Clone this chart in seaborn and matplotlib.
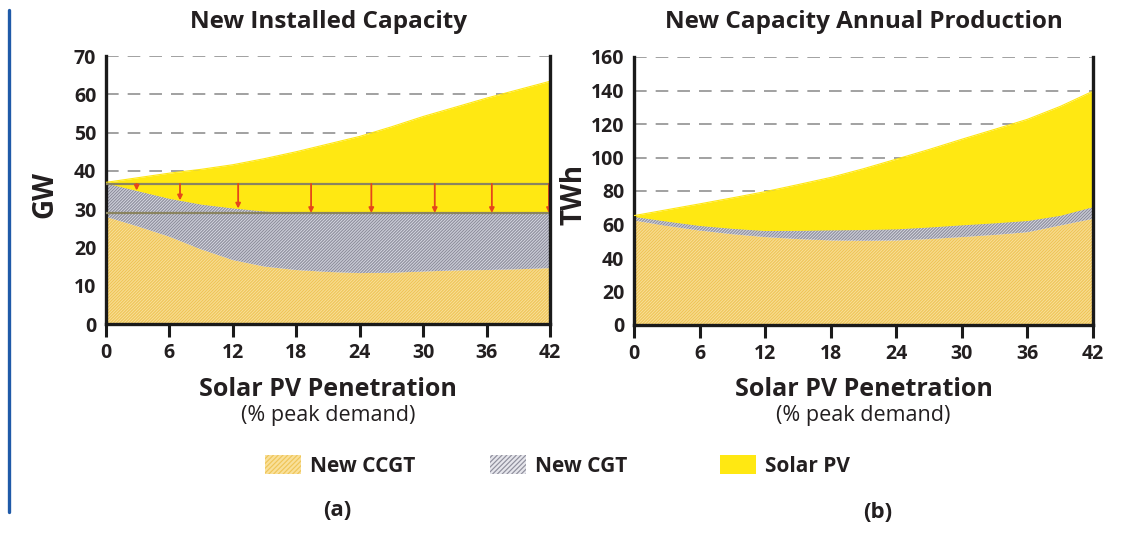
import numpy as np
import matplotlib
matplotlib.use("Agg")
import matplotlib.pyplot as plt
from matplotlib.patches import Patch
from matplotlib.lines import Line2D
import seaborn as sns

# solar PV penetration (% peak demand)
penetration = [0, 3, 6, 9, 12, 15, 18, 21, 24, 27, 30, 33, 36, 39, 42]
x_ticks = [0, 6, 12, 18, 24, 30, 36, 42]

# (a) new installed capacity, GW (stacked components)
ccgt_gw = [28.0, 25.5, 22.8, 19.5, 16.7, 15.0, 14.1, 13.6, 13.3, 13.4, 13.7, 14.0, 14.1, 14.3, 14.6]
cgt_gw = [8.8, 9.3, 10.0, 11.8, 13.6, 14.5, 14.9, 15.4, 15.7, 15.6, 15.3, 15.0, 14.9, 14.7, 14.4]
solar_gw = [0.2, 3.4, 6.6, 9.1, 11.3, 13.7, 16.0, 18.0, 20.0, 22.5, 25.2, 27.6, 30.0, 32.2, 34.4]

# thermal capacity before / after solar, and where the arrows sit
thermal_before = 36.6
thermal_after = 29.0
arrow_x = [2.9, 7.0, 12.5, 19.4, 25.1, 31.1, 36.5, 41.9]

# (b) new capacity annual production, TWh (stacked components)
ccgt_twh = [62.4, 59.2, 56.4, 54.2, 52.5, 51.3, 50.5, 50.3, 50.5, 51.3, 52.5, 53.8, 55.4, 59.4, 63.4]
cgt_twh = [2.4, 2.8, 3.0, 3.5, 3.9, 5.2, 6.3, 6.7, 6.9, 7.2, 7.3, 7.2, 7.0, 6.1, 7.3]
solar_twh = [0.5, 6.8, 12.9, 18.2, 23.2, 27.3, 31.3, 36.3, 41.6, 46.3, 51.1, 55.8, 60.4, 65.0, 68.9]

labels = ["New CCGT", "New CGT", "Solar PV"]

CCGT_FACE, CCGT_HATCH = "#f9e09a", "#efc558"
CGT_FACE, CGT_HATCH = "#d6d8e2", "#8f8f9d"
SOLAR = "#ffe812"
TXT = "#231f20"
HATCH = "/" * 11

sns.set_theme(style="white")
plt.rcParams["font.family"] = ["Open Sans", "DejaVu Sans"]
plt.rcParams["hatch.linewidth"] = 0.85

W, H = 1146, 546
fig = plt.figure(figsize=(W / 100, H / 100), dpi=100)


def stacked_panel(rect, ccgt, cgt, solar, ymax, ystep, title):
    ax = fig.add_axes(rect)
    x = np.array(penetration)
    y1 = np.array(ccgt)
    y2 = y1 + np.array(cgt)
    y3 = y2 + np.array(solar)
    ax.fill_between(x, 0, y1, facecolor=CCGT_FACE, edgecolor=CCGT_HATCH,
                    hatch=HATCH, linewidth=0, zorder=2)
    ax.fill_between(x, y1, y2, facecolor=CGT_FACE, edgecolor=CGT_HATCH,
                    hatch=HATCH, linewidth=0, zorder=2)
    ax.fill_between(x, y2, y3, facecolor=SOLAR, linewidth=0, zorder=2)
    sns.lineplot(x=x, y=y3, color=SOLAR, linewidth=0.8, ax=ax, zorder=3)

    ax.set_xlim(0, 42)
    ax.set_ylim(0, ymax)
    ax.set_xticks(x_ticks)
    ax.set_yticks(np.arange(0, ymax + 1, ystep))
    for t in np.arange(ystep, ymax + 1, ystep):
        ax.axhline(t, color="#9a9a9a", lw=1.3, ls=(0, (7, 5)), zorder=1)
    for s in ["left", "bottom", "right"]:
        ax.spines[s].set_color("#1a1a1a")
        ax.spines[s].set_linewidth(2.4)
    ax.spines["top"].set_visible(False)
    ax.spines["right"].set_zorder(5)
    ax.tick_params(axis="x", length=9, width=2.2, color="#1a1a1a", direction="out",
                   pad=5, labelsize=14, labelcolor=TXT, bottom=True)
    ax.tick_params(axis="y", length=0, pad=7, labelsize=14, labelcolor=TXT)
    for lab in ax.get_xticklabels() + ax.get_yticklabels():
        lab.set_fontweight("bold")
    ax.set_xlabel("")
    ax.set_ylabel("")

    cx = rect[0] + rect[2] / 2
    fig.text(cx, 1 - 22 / H, title, ha="center", va="center",
             fontsize=17.5, fontweight="bold", color=TXT)
    fig.text(cx, 1 - 389 / H, "Solar PV Penetration", ha="center", va="center",
             fontsize=18, fontweight="bold", color=TXT)
    fig.text(cx, 1 - 416 / H, "(% peak demand)", ha="center", va="center",
             fontsize=15.5, color=TXT)
    return ax, y2


ax1, top1 = stacked_panel([106 / W, 1 - 324 / H, 444 / W, 268 / H],
                          ccgt_gw, cgt_gw, solar_gw, 70, 10,
                          "New Installed Capacity")
ax2, _ = stacked_panel([634 / W, 1 - 325 / H, 459 / W, 268 / H],
                       ccgt_twh, cgt_twh, solar_twh, 160, 20,
                       "New Capacity Annual Production")

fig.text(45 / W, 1 - 194 / H, "GW", rotation=90, ha="center", va="center",
         fontsize=20, fontweight="bold", color=TXT)
fig.text(574 / W, 1 - 194 / H, "TWh", rotation=90, ha="center", va="center",
         fontsize=20, fontweight="bold", color=TXT)

# capacity reduction markers on panel (a)
line_col = "#8a8460"
ax1.hlines([thermal_before, thermal_after], 0, 42, colors=line_col, lw=1.6, zorder=4)
for xa in arrow_x:
    yend = np.interp(xa, penetration, top1)
    ax1.annotate("", xy=(xa, yend), xytext=(xa, thermal_before),
                 arrowprops=dict(arrowstyle="-|>", color="#e5461b", lw=1.3,
                                 mutation_scale=7, shrinkA=0, shrinkB=0),
                 zorder=5)

handles = [
    Patch(facecolor=CCGT_FACE, edgecolor=CCGT_HATCH, hatch="/" * 7, linewidth=0),
    Patch(facecolor="#e6e6ec", edgecolor=CGT_HATCH, hatch="/" * 7, linewidth=0),
    Patch(facecolor=SOLAR, linewidth=0),
]
legend_left = [265, 490, 720]
for h, lab, xl in zip(handles, labels, legend_left):
    leg = fig.legend([h], [lab], loc="center left", bbox_to_anchor=(xl / W, 1 - 466 / H),
                     frameon=False, borderpad=0, borderaxespad=0,
                     handlelength=1.75, handleheight=1.05, handletextpad=0.4,
                     prop={"size": 15, "weight": "bold"})
    for t in leg.get_texts():
        t.set_color(TXT)

fig.text(337 / W, 1 - 510 / H, "(a)", ha="center", va="center",
         fontsize=16, fontweight="bold", color=TXT)
fig.text(878 / W, 1 - 512 / H, "(b)", ha="center", va="center",
         fontsize=16, fontweight="bold", color=TXT)

# blue rule at the left edge
fig.add_artist(Line2D([9 / W, 9 / W], [1 - 10 / H, 1 - 512 / H],
                      transform=fig.transFigure, color="#1f5aa8", lw=2.4))

fig.savefig("out.png", dpi=100)
